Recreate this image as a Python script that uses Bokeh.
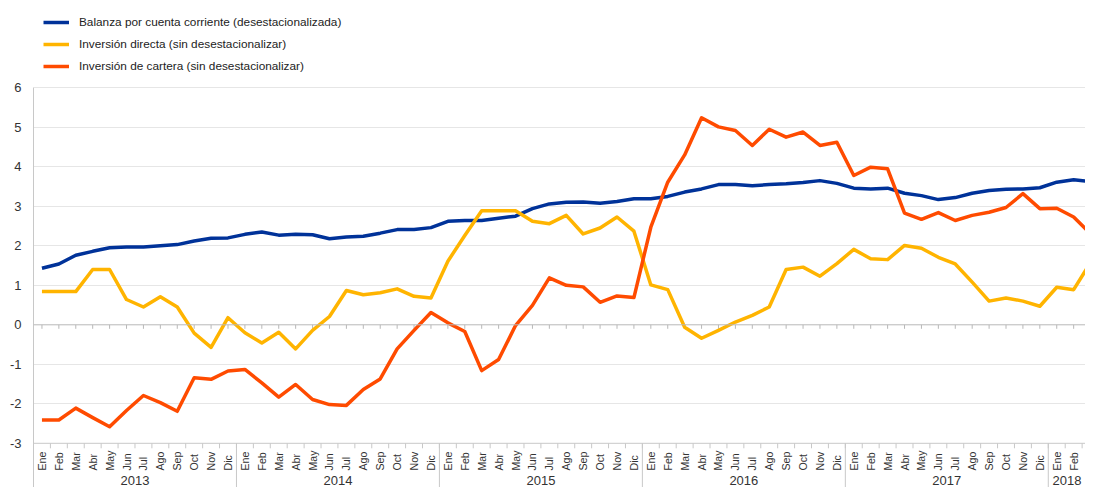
import math
from bokeh.plotting import figure
from bokeh.models import FixedTicker, Span, Range1d, Legend, LegendItem
from bokeh.core.properties import value
from bokeh.embed import file_html
from bokeh.resources import INLINE

# ---------------- data ----------------
years = ["2013", "2014", "2015", "2016", "2017", "2018"]
months = ["Ene", "Feb", "Mar", "Abr", "May", "Jun", "Jul", "Ago", "Sep", "Oct", "Nov", "Dic"]
months_per_year = [12, 12, 12, 12, 12, 3]
month_labels = [m for n in months_per_year for m in months[:n]]
year_of_month = [y for y, n in zip(years, months_per_year) for _ in range(n)]

balanza = [1.43, 1.54, 1.76, 1.86, 1.95, 1.97, 1.97, 2.00, 2.03, 2.12, 2.19, 2.20,
           2.29, 2.35, 2.27, 2.29, 2.28, 2.18, 2.22, 2.24, 2.32, 2.41, 2.41, 2.46,
           2.62, 2.64, 2.64, 2.70, 2.75, 2.94, 3.06, 3.10, 3.11, 3.08, 3.12, 3.19,
           3.19, 3.25, 3.36, 3.44, 3.55, 3.55, 3.52, 3.55, 3.57, 3.60, 3.65, 3.58,
           3.46, 3.44, 3.46, 3.33, 3.27, 3.17, 3.22, 3.33, 3.40, 3.43, 3.44, 3.47,
           3.61, 3.67, 3.63]
directa = [0.84, 0.84, 0.84, 1.40, 1.40, 0.64, 0.45, 0.71, 0.45, -0.21, -0.57, 0.18,
           -0.20, -0.46, -0.19, -0.61, -0.14, 0.21, 0.87, 0.76, 0.81, 0.91, 0.72, 0.68,
           1.61, 2.26, 2.89, 2.89, 2.89, 2.62, 2.56, 2.77, 2.30, 2.45, 2.73, 2.37,
           1.01, 0.89, -0.06, -0.34, -0.14, 0.07, 0.24, 0.45, 1.40, 1.46, 1.23, 1.55,
           1.91, 1.67, 1.65, 2.01, 1.94, 1.71, 1.54, 1.08, 0.60, 0.68, 0.60, 0.47,
           0.95, 0.89, 1.58]
cartera = [-2.41, -2.41, -2.11, -2.35, -2.58, -2.17, -1.79, -1.97, -2.19, -1.34, -1.38, -1.17,
           -1.13, -1.47, -1.83, -1.51, -1.89, -2.02, -2.04, -1.64, -1.37, -0.61, -0.14, 0.31,
           0.05, -0.17, -1.16, -0.88, -0.02, 0.49, 1.19, 1.00, 0.96, 0.57, 0.73, 0.69,
           2.47, 3.61, 4.30, 5.24, 5.01, 4.92, 4.54, 4.95, 4.75, 4.88, 4.54, 4.62,
           3.78, 3.99, 3.95, 2.83, 2.67, 2.84, 2.64, 2.77, 2.85, 2.97, 3.32, 2.94,
           2.95, 2.73, 2.30]
series_names = ["Balanza por cuenta corriente (desestacionalizada)",
                "Inversión directa (sin desestacionalizar)",
                "Inversión de cartera (sin desestacionalizar)"]
y_ticks = [-3, -2, -1, 0, 1, 2, 3, 4, 5, 6]

# ---------------- layout constants ----------------
W, H = 1085, 487
LEFT = 33
PX_PER_UNIT = 39.5
ZERO_PX = 324.3                      # pixel row of value 0
Y_TOP = ZERO_PX / PX_PER_UNIT
Y_BOTTOM = Y_TOP - H / PX_PER_UNIT
X_START = -0.5
X_END = 61.7                          # the reference is cut inside the last month

FONT = "Liberation Sans"
BLUE, YELLOW, ORANGE = "#003299", "#FFB400", "#FF4B00"

idx = list(range(len(month_labels)))
y_min, y_max = min(y_ticks), max(y_ticks)


def px_to_val(py):
    return (ZERO_PX - py) / PX_PER_UNIT


p = figure(width=W, height=H, output_backend="svg", toolbar_location=None,
           x_range=Range1d(X_START, X_END), y_range=Range1d(Y_BOTTOM, Y_TOP),
           min_border_left=LEFT, min_border_right=0, min_border_top=0, min_border_bottom=0)
p.outline_line_color = None
p.background_fill_color = "white"
p.xaxis.visible = False
p.xgrid.visible = False

# y axis
p.yaxis.ticker = FixedTicker(ticks=y_ticks)
p.yaxis.major_label_overrides = {t: str(t) for t in y_ticks}
p.yaxis.bounds = (Y_BOTTOM, y_max)
p.yaxis.axis_line_color = "#c8c8c8"
p.yaxis.major_tick_out = 0
p.yaxis.major_tick_in = 0
p.yaxis.minor_tick_out = 0
p.yaxis.minor_tick_in = 0
p.yaxis.major_label_standoff = 12
p.yaxis.major_label_text_font_size = "13px"
p.yaxis.major_label_text_font = FONT
p.yaxis.major_label_text_color = "#333333"

p.ygrid.ticker = FixedTicker(ticks=[t for t in y_ticks if t not in (0, y_min)])
p.ygrid.grid_line_color = "#e6e6e6"
p.ygrid.grid_line_width = 1

p.add_layout(Span(location=0, dimension="width", line_color="#b8b8b8", line_width=1))
p.add_layout(Span(location=y_min, dimension="width", line_color="#c8c8c8", line_width=1))

# ticks on the zero line (at month centres)
t0 = 4 / PX_PER_UNIT
p.segment(x0=idx, y0=[0] * len(idx), x1=idx, y1=[-t0] * len(idx), line_color="#b8b8b8", line_width=1)

# ticks on the bottom axis (at month boundaries)
bounds_x = [i - 0.5 for i in idx[1:]] + [idx[-1] + 0.5]
t1 = 5 / PX_PER_UNIT
p.segment(x0=bounds_x, y0=[y_min] * len(bounds_x), x1=bounds_x, y1=[y_min - t1] * len(bounds_x),
          line_color="#c8c8c8", line_width=1)

# year separators
year_starts = [year_of_month.index(y) for y in years]
sep_x = [s - 0.5 for s in year_starts[1:]]
p.segment(x0=sep_x, y0=[y_min] * len(sep_x), x1=sep_x, y1=[Y_BOTTOM] * len(sep_x),
          line_color="#c8c8c8", line_width=1)

# month labels (only those whose slot is visible in the cropped view)
vis = [i for i in idx if i + 0.3 < X_END]
month_y = px_to_val(470)
p.text(x=vis, y=[month_y] * len(vis), text=[month_labels[i] for i in vis], angle=math.pi / 2,
       text_align="left", text_baseline="middle", text_font=value(FONT),
       text_font_size="10.6px", text_color="#333333")

# year labels, centred in the visible part of each year's span
year_x = []
for y, s, n in zip(years, year_starts, months_per_year):
    lo, hi = s - 0.5, min(s + n - 0.5, X_END)
    year_x.append((lo + hi) / 2)
year_y = px_to_val(479.5)
p.text(x=year_x, y=[year_y] * len(years), text=years, text_align="center",
       text_baseline="middle", text_font=value(FONT), text_font_size="13px", text_color="#333333")

# lines
r1 = p.line(idx, balanza, line_color=BLUE, line_width=3.5, line_join="round")
r2 = p.line(idx, directa, line_color=YELLOW, line_width=3.5, line_join="round")
r3 = p.line(idx, cartera, line_color=ORANGE, line_width=3.5, line_join="round")

legend = Legend(items=[LegendItem(label=n, renderers=[r]) for n, r in zip(series_names, [r1, r2, r3])],
                location=(10, 410), orientation="vertical", padding=0, margin=0, spacing=0,
                glyph_width=26, glyph_height=22, label_height=22, label_standoff=10,
                label_text_font=FONT, label_text_font_size="11.8px", label_text_color="#222222",
                label_text_baseline="middle",
                border_line_color=None, background_fill_alpha=0)
p.add_layout(legend)

open("out.html", "w").write(file_html(p, INLINE))
